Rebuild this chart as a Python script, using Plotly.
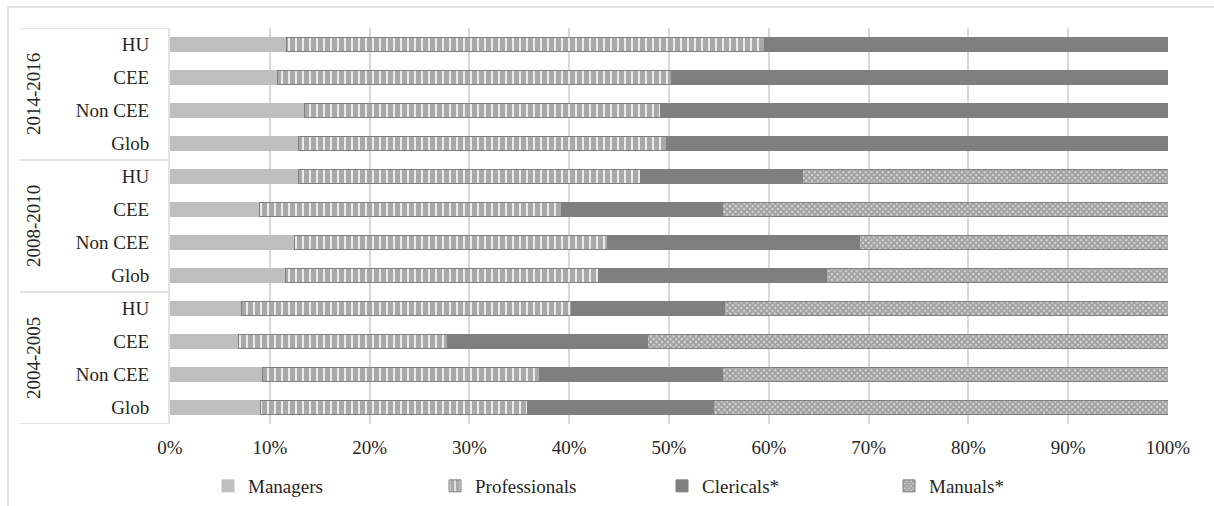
import plotly.graph_objects as go

# Occupational structure by period and region (shares, %)
periods = ["2004-2005", "2008-2010", "2014-2016"]
regions = ["Glob", "Non CEE", "CEE", "HU"]  # bottom to top within each period

managers = [9.1, 9.3, 6.9, 7.2, 11.6, 12.5, 9.0, 12.9, 12.9, 13.5, 10.8, 11.7]
professionals = [26.7, 27.7, 20.9, 33.0, 31.3, 31.3, 30.2, 34.2, 36.8, 35.6, 39.5, 47.9]
clericals = [18.7, 18.4, 20.0, 15.4, 22.9, 25.3, 16.2, 16.3, 50.3, 50.9, 49.7, 40.4]
manuals = [45.5, 44.6, 52.2, 44.4, 34.2, 30.9, 44.6, 36.6, 0.0, 0.0, 0.0, 0.0]

x_ticks = [0, 10, 20, 30, 40, 50, 60, 70, 80, 90, 100]

FONT = "Liberation Serif"
TEXT = "#262626"
GRID = "#d9d9d9"

n_reg = len(regions)
rows = [p * n_reg + r for p in range(len(periods)) for r in range(n_reg)]
row_labels = [regions[r] for p in range(len(periods)) for r in range(n_reg)]

fig = go.Figure()

fig.add_trace(go.Bar(
    name="Managers", y=rows, x=managers, orientation="h",
    marker=dict(color="#bfbfbf", line=dict(color="#bfbfbf", width=1)),
))
fig.add_trace(go.Bar(
    name="Professionals", y=rows, x=professionals, orientation="h",
    marker=dict(color="white", line=dict(color="#808080", width=1),
                pattern=dict(shape="|", fgcolor="#5e5e5e", bgcolor="#f4f4f4",
                             size=7, solidity=0.75)),
))
fig.add_trace(go.Bar(
    name="Clericals*", y=rows, x=clericals, orientation="h",
    marker=dict(color="#7f7f7f", line=dict(color="#7f7f7f", width=1)),
))
fig.add_trace(go.Bar(
    name="Manuals*", y=rows, x=manuals, orientation="h",
    marker=dict(color="white", line=dict(color="#808080", width=1),
                pattern=dict(shape="x", fgcolor="#6a6a6a", bgcolor="#d4d4d4",
                             size=4, solidity=0.7)),
))

# Plot-area geometry in pixels, used to place the category box and frame
W, H = 1214, 506
L, R, T, B = 170, 46, 28, 82
pw, ph = W - L - R, H - T - B


def px_x(px):
    return (px - L) / pw


def px_y(py):
    return (H - B - py) / ph


shapes = []
# outer chart frame
shapes.append(dict(type="rect", xref="paper", yref="paper",
                   x0=px_x(8), x1=px_x(1300), y0=px_y(600), y1=px_y(7),
                   line=dict(color=GRID, width=1.5), fillcolor="rgba(0,0,0,0)",
                   layer="below"))
# category axis line
shapes.append(dict(type="line", xref="paper", yref="y",
                   x0=px_x(169), x1=px_x(169), y0=-0.5, y1=len(rows) - 0.5,
                   line=dict(color=GRID, width=1.5)))
# period dividers
for k in range(len(periods) + 1):
    yv = k * n_reg - 0.5
    shapes.append(dict(type="line", xref="paper", yref="y",
                       x0=px_x(20), x1=px_x(169), y0=yv, y1=yv,
                       line=dict(color=GRID, width=1.5)))

annotations = []
for p, name in enumerate(periods):
    annotations.append(dict(
        text=name, xref="paper", yref="y", x=px_x(33), y=p * n_reg + (n_reg - 1) / 2,
        xanchor="center", yanchor="middle", textangle=-90, showarrow=False,
        font=dict(family=FONT, size=19, color=TEXT),
    ))

fig.update_layout(
    width=W, height=H,
    margin=dict(l=L, r=R, t=T, b=B, autoexpand=False),
    paper_bgcolor="white", plot_bgcolor="white",
    barmode="stack", bargap=0.57,
    font=dict(family=FONT, size=19, color=TEXT),
    shapes=shapes, annotations=annotations,
    legend=dict(orientation="h", x=px_x(208), xanchor="left",
                y=px_y(467), yanchor="top",
                entrywidth=182, entrywidthmode="pixels",
                font=dict(family=FONT, size=19, color=TEXT),
                traceorder="normal", itemwidth=30),
    xaxis=dict(range=[0, 100], tickvals=x_ticks,
               ticktext=[f"{v}%" for v in x_ticks],
               showgrid=True, gridcolor=GRID, gridwidth=1.5,
               zeroline=False, showline=False,
               ticks="outside", ticklen=6, tickcolor="rgba(0,0,0,0)",
               tickfont=dict(family=FONT, size=19, color=TEXT), fixedrange=True),
    yaxis=dict(range=[-0.5, len(rows) - 0.5], tickvals=rows, ticktext=row_labels,
               showgrid=False, zeroline=False, showline=False,
               ticks="outside", ticklen=16, tickcolor="rgba(0,0,0,0)",
               tickfont=dict(family=FONT, size=19, color=TEXT), fixedrange=True),
)

fig.write_html("out.html")
